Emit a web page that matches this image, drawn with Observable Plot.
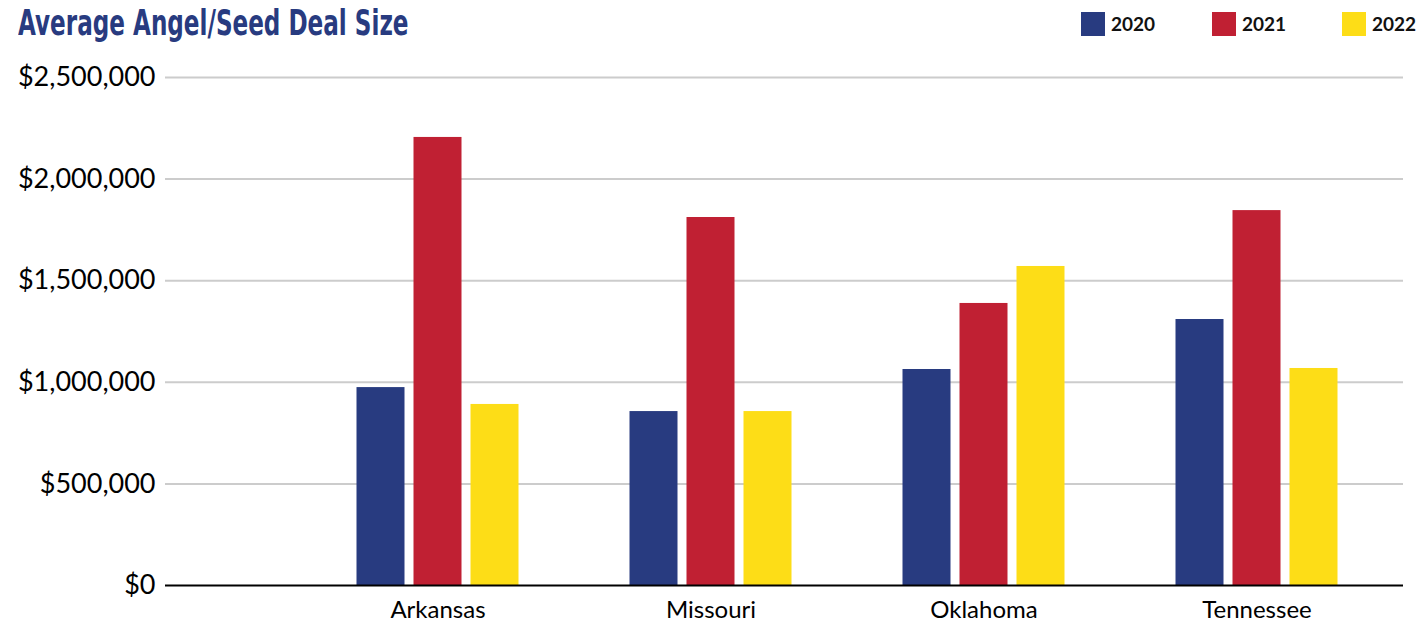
<!DOCTYPE html>
<html>
<head>
<meta charset="utf-8">
<script src="https://cdn.jsdelivr.net/npm/d3@7"></script>
<script src="https://cdn.jsdelivr.net/npm/@observablehq/plot@0.6"></script>
<style>
  html, body { margin: 0; padding: 0; background: #fff; overflow: hidden; width: 1418px; height: 624px; }
  #header { position: relative; width: 1418px; height: 50px; }
  #title { position: absolute; left: 18px; top: 2px; font-family: "DejaVu Sans", sans-serif; font-weight: bold; font-size: 35px; line-height: 42px; color: #283b80; white-space: nowrap; transform-origin: 0 0; transform: scaleX(0.66); }
  .sw { position: absolute; top: 12px; width: 24px; height: 24px; }
  .lt { position: absolute; top: 12px; font-family: Lato, sans-serif; font-weight: bold; font-size: 19px; line-height: 24px; color: #111; white-space: nowrap; }
</style>
</head>
<body>
<div id="header">
  <div id="title">Average Angel/Seed Deal Size</div>
  <div id="legend"></div>
</div>
<div id="chart"></div>
<script>
const states = ["Arkansas", "Missouri", "Oklahoma", "Tennessee"];
const years = ["2020", "2021", "2022"];
const colors = ["#283b80", "#c02033", "#fddd17"];
const v2020 = [974000, 856000, 1063000, 1309000];
const v2021 = [2205000, 1811000, 1388000, 1845000];
const v2022 = [891000, 856000, 1570000, 1068000];
const yTicks = [0, 500000, 1000000, 1500000, 2000000, 2500000];

const series = [v2020, v2021, v2022];
const data = [];
years.forEach((yr, i) => states.forEach((s, j) => data.push({state: s, year: yr, value: series[i][j]})));

// legend
const legend = document.getElementById("legend");
const legendX = [1081, 1212, 1342];
years.forEach((yr, i) => {
  const sw = document.createElement("div");
  sw.className = "sw"; sw.style.left = legendX[i] + "px"; sw.style.background = colors[i];
  legend.appendChild(sw);
  const t = document.createElement("div");
  t.className = "lt"; t.style.left = (legendX[i] + 30) + "px"; t.textContent = yr;
  legend.appendChild(t);
});

const fmt = d => "$" + d3.format(",")(d);
const offsets = [-57, 0, 57];
const inset = (273 - 48) / 2;

const chart = Plot.plot({
  width: 1418,
  height: 574,
  marginTop: 27,
  marginBottom: 39,
  marginLeft: 165,
  marginRight: 15,
  style: { fontFamily: "Lato, sans-serif", background: "#fff", color: "#000", overflow: "visible" },
  x: { domain: states, range: [300.5, 1393.5], padding: 0, label: null },
  y: { domain: [0, 2500000], label: null },
  marks: [
    Plot.ruleY(yTicks.filter(d => d > 0), { stroke: "#cccccc", strokeWidth: 2 }),
    ...years.map((yr, i) => Plot.barY(data.filter(d => d.year === yr), {
      x: "state", y: "value", fill: colors[i], dx: offsets[i], insetLeft: inset, insetRight: inset
    })),
    Plot.ruleY([0], { stroke: "#000", strokeWidth: 2 }),
    Plot.axisY({ ticks: yTicks, tickFormat: fmt, tickSize: 0, tickPadding: 10, fontSize: 27, label: null, fill: "#000" }),
    Plot.axisX({ tickSize: 0, tickPadding: 15, fontSize: 24, label: null, fill: "#000" })
  ]
});
document.getElementById("chart").appendChild(chart);
</script>
</body>
</html>
